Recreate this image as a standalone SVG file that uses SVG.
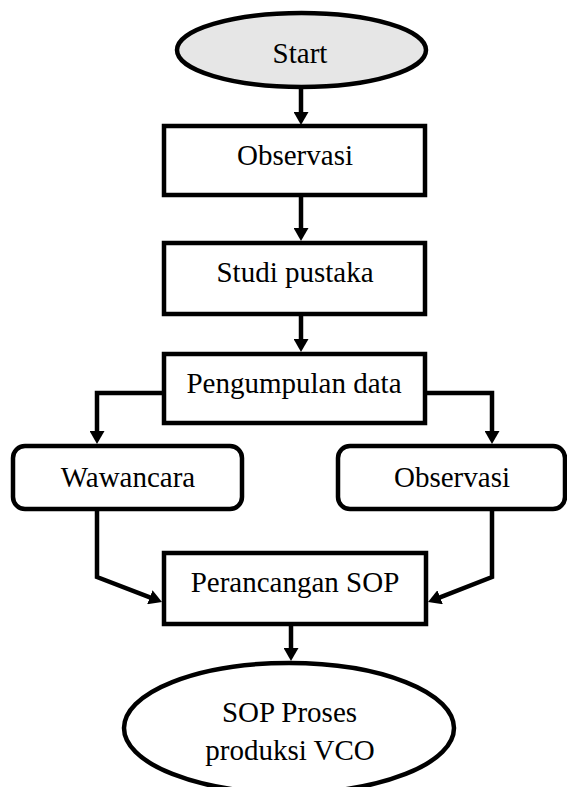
<svg xmlns="http://www.w3.org/2000/svg" width="567" height="787" viewBox="0 0 567 787">
<style>
.box{fill:#fff;stroke:#000;stroke-width:4.5}
.term{stroke:#000;stroke-width:4.5}
.lbl{font-family:"Liberation Serif","Times New Roman",serif;font-size:29px;fill:#000;text-anchor:middle}
.conn{fill:none;stroke:#000;stroke-width:4.5;stroke-linejoin:miter}
</style>
<defs>
<marker id="arr" viewBox="0 0 13 15" refX="7" refY="7.5" markerWidth="13" markerHeight="15" markerUnits="userSpaceOnUse" orient="auto">
<path d="M0,0 L13,7.5 L0,15 z" fill="#000"/>
</marker>
</defs>
<rect width="567" height="787" fill="#fff"/>
<g id="connectors">
<path class="conn" d="M301,87 V119" marker-end="url(#arr)"/>
<path class="conn" d="M301,195 V235" marker-end="url(#arr)"/>
<path class="conn" d="M301,314 V346" marker-end="url(#arr)"/>
<path class="conn" d="M164,393 H97 V438" marker-end="url(#arr)"/>
<path class="conn" d="M425,393 H492 V438" marker-end="url(#arr)"/>
<path class="conn" d="M97,509 V577 L156.4,599.8" marker-end="url(#arr)"/>
<path class="conn" d="M492,509 V577 L433.6,599.8" marker-end="url(#arr)"/>
<path class="conn" d="M291,624 V655" marker-end="url(#arr)"/>
</g>
<g id="start">
<ellipse class="term" cx="301.5" cy="50" rx="124.5" ry="37" fill="#e6e6e6"/>
<text class="lbl" x="300" y="63">Start</text>
</g>
<g id="observasi1">
<rect class="box" x="164" y="126" width="261" height="69"/>
<text class="lbl" x="295" y="165">Observasi</text>
</g>
<g id="studi">
<rect class="box" x="164" y="243" width="261" height="71"/>
<text class="lbl" x="295" y="282">Studi pustaka</text>
</g>
<g id="pengumpulan">
<rect class="box" x="164" y="354" width="261" height="69"/>
<text class="lbl" x="294" y="393">Pengumpulan data</text>
</g>
<g id="wawancara">
<rect class="box" x="13" y="446" width="229" height="63" rx="12"/>
<text class="lbl" x="128" y="487">Wawancara</text>
</g>
<g id="observasi2">
<rect class="box" x="338" y="446" width="227" height="63" rx="12"/>
<text class="lbl" x="452" y="487">Observasi</text>
</g>
<g id="perancangan">
<rect class="box" x="164" y="553" width="262" height="71"/>
<text class="lbl" x="295" y="592">Perancangan SOP</text>
</g>
<g id="sop">
<ellipse class="term" cx="289" cy="728" rx="165" ry="65" fill="#fff"/>
<text class="lbl" x="289.5" y="722">SOP Proses</text>
<text class="lbl" x="290" y="760">produksi VCO</text>
</g>
</svg>
